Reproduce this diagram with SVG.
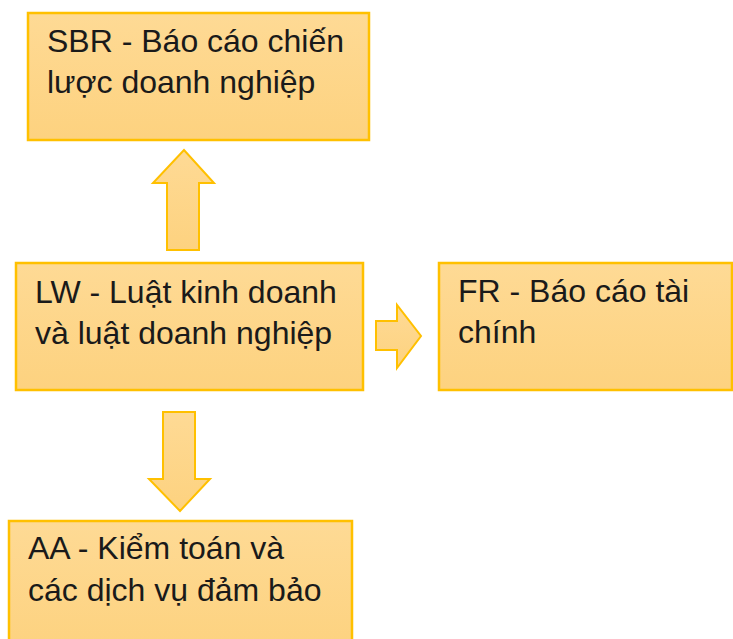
<svg xmlns="http://www.w3.org/2000/svg" width="733" height="639" viewBox="0 0 733 639">
<defs>
<linearGradient id="g" x1="0" y1="0" x2="0" y2="1">
<stop offset="0" stop-color="#FEDA95"/>
<stop offset="1" stop-color="#FDD27F"/>
</linearGradient>
<style>
.box{fill:url(#g);stroke:#FFC000;stroke-width:2.5}
.arr{fill:url(#g);stroke:#FFC000;stroke-width:2;stroke-linejoin:miter}
.t{font-family:"Liberation Sans",Arial,sans-serif;font-size:32px;fill:#1a1a1a}
</style>
</defs>
<rect width="733" height="639" fill="#fff"/>
<g id="connectors">
<path class="arr" d="M167,250 L167,183 L153,183 L184,150 L214,183 L199,183 L199,250 Z"/>
<path class="arr" d="M163,412 L195,412 L195,479 L210,479 L180,511 L149,479 L163,479 Z"/>
<path class="arr" d="M376,321 L397,321 L397,305 L421,336 L397,368 L397,350 L376,350 Z"/>
</g>
<g id="sbr">
<rect class="box" x="28" y="13" width="341" height="127"/>
<text class="t" x="47" y="52">SBR - Báo cáo chiến</text>
<text class="t" x="47" y="93">lược doanh nghiệp</text>
</g>
<g id="lw">
<rect class="box" x="16" y="263" width="347" height="127"/>
<text class="t" x="35" y="303">LW - Luật kinh doanh</text>
<text class="t" x="35" y="344">và luật doanh nghiệp</text>
</g>
<g id="fr">
<rect class="box" x="439" y="263" width="293" height="127"/>
<text class="t" x="458" y="302">FR - Báo cáo tài</text>
<text class="t" x="458" y="343">chính</text>
</g>
<g id="aa">
<rect class="box" x="9" y="521" width="343" height="130"/>
<text class="t" x="28" y="559">AA - Kiểm toán và</text>
<text class="t" x="28" y="601">các dịch vụ đảm bảo</text>
</g>
</svg>
